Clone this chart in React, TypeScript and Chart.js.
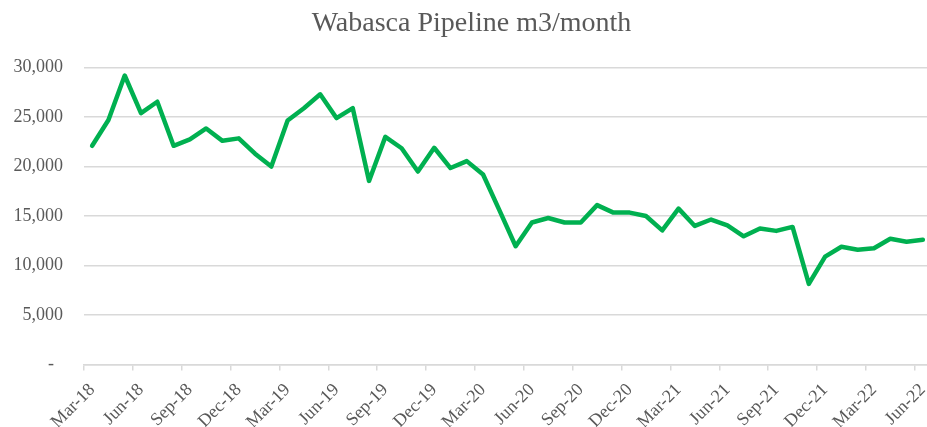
import React, { useEffect, useRef } from "react";
import { Chart, registerables } from "chart.js";

Chart.register(...registerables);

const months: string[] = [
  "Mar-18", "Apr-18", "May-18", "Jun-18", "Jul-18", "Aug-18", "Sep-18", "Oct-18", "Nov-18", "Dec-18",
  "Jan-19", "Feb-19", "Mar-19", "Apr-19", "May-19", "Jun-19", "Jul-19", "Aug-19", "Sep-19", "Oct-19", "Nov-19", "Dec-19",
  "Jan-20", "Feb-20", "Mar-20", "Apr-20", "May-20", "Jun-20", "Jul-20", "Aug-20", "Sep-20", "Oct-20", "Nov-20", "Dec-20",
  "Jan-21", "Feb-21", "Mar-21", "Apr-21", "May-21", "Jun-21", "Jul-21", "Aug-21", "Sep-21", "Oct-21", "Nov-21", "Dec-21",
  "Jan-22", "Feb-22", "Mar-22", "Apr-22", "May-22", "Jun-22",
];

const volumes: number[] = [
  22100, 24700, 29200, 25400, 26550, 22100, 22750, 23850, 22600, 22850,
  21300, 20000, 24650, 25900, 27300, 24900, 25900, 18550, 23000, 21850, 19500, 21900,
  19850, 20550, 19200, 15600, 11950, 14350, 14800, 14350, 14350, 16100, 15350, 15350,
  15000, 13550, 15750, 14000, 14650, 14050, 12950, 13750, 13500, 13900, 8150, 10900,
  11900, 11600, 11750, 12700, 12400, 12600,
];

const yTicks: number[] = [0, 5000, 10000, 15000, 20000, 25000, 30000];

const TITLE = "Wabasca Pipeline m3/month";
const FONT = "'Liberation Serif', 'Times New Roman', serif";
const TEXT = "#595959";
const GRID = "#d9d9d9";
const LINE = "#00b050";

export default function App() {
  const ref = useRef<HTMLCanvasElement | null>(null);

  useEffect(() => {
    if (!ref.current) return;
    const chart = new Chart(ref.current, {
      type: "line",
      data: {
        labels: months,
        datasets: [
          {
            label: "Wabasca Pipeline",
            data: volumes,
            borderColor: LINE,
            backgroundColor: LINE,
            borderWidth: 4.5,
            pointRadius: 0,
            tension: 0,
            borderJoinStyle: "round",
            borderCapStyle: "round",
          },
        ],
      },
      options: {
        responsive: false,
        animation: false,
        layout: { padding: { left: 12, right: 1, top: 0, bottom: 0 } },
        plugins: {
          legend: { display: false },
          tooltip: { enabled: false },
          title: {
            display: true,
            text: TITLE,
            color: TEXT,
            font: { family: FONT, size: 28, weight: "normal", lineHeight: 1.2 },
            padding: { top: 7, bottom: 27 },
          },
        },
        scales: {
          x: {
            type: "category",
            offset: true,
            grid: {
              offset: true,
              drawOnChartArea: false,
              drawTicks: true,
              tickLength: 6,
              color: (ctx: any) => (ctx.index % 3 === 0 ? GRID : "rgba(0,0,0,0)"),
              lineWidth: 1.5,
            },
            border: { display: true, color: GRID, width: 1.5 },
            ticks: {
              autoSkip: false,
              maxRotation: 45,
              minRotation: 45,
              padding: 9,
              color: TEXT,
              font: { family: FONT, size: 18 },
              callback: (_v: any, i: number) => (i % 3 === 0 ? months[i] : ""),
            },
            afterFit: (scale: any) => {
              scale.height = 62.5;
              scale.paddingLeft = 0;
              scale.paddingRight = 0;
            },
          },
          y: {
            min: 0,
            max: 30000,
            afterBuildTicks: (scale: any) => {
              scale.ticks = yTicks.map((v) => ({ value: v }));
            },
            grid: { color: GRID, lineWidth: 1.5, drawTicks: false },
            border: { display: false },
            ticks: {
              padding: 21,
              color: TEXT,
              font: { family: FONT, size: 18 },
              callback: (v: any) => (Number(v) === 0 ? "-  " : Number(v).toLocaleString("en-US")),
            },
            afterFit: (scale: any) => {
              scale.width = 72;
            },
          },
        },
      },
    });
    return () => chart.destroy();
  }, []);

  return (
    <div
      style={{
        position: "fixed",
        left: 0,
        top: 0,
        width: 927,
        height: 427,
        overflow: "hidden",
        background: "#ffffff",
      }}
    >
      <canvas ref={ref} width={932} height={427} style={{ width: 932, height: 427, display: "block" }} />
    </div>
  );
}
